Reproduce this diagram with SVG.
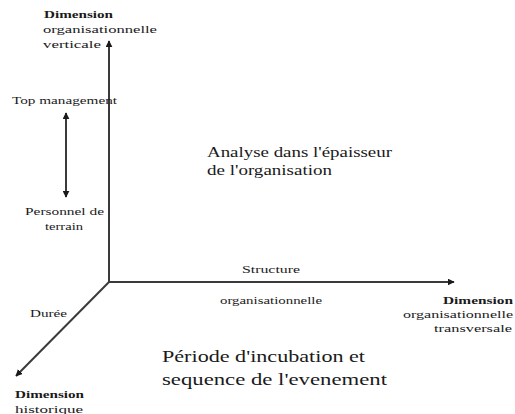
<svg xmlns="http://www.w3.org/2000/svg" width="515" height="414" viewBox="0 0 515 414" font-family="'Liberation Serif', 'DejaVu Serif', serif">
<defs>
<style>
text{fill:#1a1a1a;font-family:"Liberation Serif","DejaVu Serif",serif}
.s{font-size:11px}
.b{font-size:11px;font-weight:bold}
.m{font-size:15px}
.l{font-size:17px}
.ln{stroke:#3a3a3a;stroke-width:2;fill:none}
</style>
<marker id="ah" viewBox="0 0 10 10" refX="9" refY="5" markerWidth="3.5" markerHeight="3.5" orient="auto-start-reverse">
<path d="M0,0 L10,5 L0,10 z" fill="#1a1a1a"/>
</marker>
</defs>
<rect width="515" height="414" fill="#fff"/>
<g id="connectors">
<line class="ln" x1="109" y1="282" x2="109" y2="41" marker-end="url(#ah)"/>
<line class="ln" x1="109" y1="282" x2="454" y2="282" marker-end="url(#ah)"/>
<line class="ln" x1="109" y1="282" x2="16" y2="376" marker-end="url(#ah)"/>
<line class="ln" x1="66" y1="113" x2="66" y2="197" marker-start="url(#ah)" marker-end="url(#ah)"/>
</g>
<g id="vertical-axis-label">
<text class="b" x="44" y="18" textLength="69" lengthAdjust="spacingAndGlyphs">Dimension</text>
<text class="s" x="43" y="33" textLength="114" lengthAdjust="spacingAndGlyphs">organisationnelle</text>
<text class="s" x="43" y="48" textLength="58" lengthAdjust="spacingAndGlyphs">verticale</text>
</g>
<g id="top-management"><text class="s" x="12" y="104" textLength="105" lengthAdjust="spacingAndGlyphs">Top management</text></g>
<g id="personnel"><text class="s" x="25" y="215" textLength="79" lengthAdjust="spacingAndGlyphs">Personnel de</text><text class="s" x="45" y="230" textLength="38" lengthAdjust="spacingAndGlyphs">terrain</text></g>
<g id="analyse"><text class="m" x="207" y="157" textLength="185" lengthAdjust="spacingAndGlyphs">Analyse dans l'épaisseur</text><text class="m" x="207" y="175" textLength="125" lengthAdjust="spacingAndGlyphs">de l'organisation</text></g>
<g id="structure"><text class="s" x="242" y="273" textLength="58" lengthAdjust="spacingAndGlyphs">Structure</text><text class="s" x="220" y="304" textLength="102" lengthAdjust="spacingAndGlyphs">organisationnelle</text></g>
<g id="horizontal-axis-label">
<text class="b" x="443" y="304" textLength="70" lengthAdjust="spacingAndGlyphs">Dimension</text>
<text class="s" x="403" y="318" textLength="110" lengthAdjust="spacingAndGlyphs">organisationnelle</text>
<text class="s" x="434" y="332" textLength="78" lengthAdjust="spacingAndGlyphs">transversale</text>
</g>
<g id="duree"><text class="s" x="30" y="317" textLength="37" lengthAdjust="spacingAndGlyphs">Durée</text></g>
<g id="diagonal-axis-label"><text class="b" x="15" y="398" textLength="69" lengthAdjust="spacingAndGlyphs">Dimension</text><text class="s" x="15" y="413" textLength="68" lengthAdjust="spacingAndGlyphs">historique</text></g>
<g id="periode"><text class="l" x="162" y="362" textLength="203" lengthAdjust="spacingAndGlyphs">Période d'incubation et</text><text class="l" x="162" y="385" textLength="225" lengthAdjust="spacingAndGlyphs">sequence de l'evenement</text></g>
</svg>
